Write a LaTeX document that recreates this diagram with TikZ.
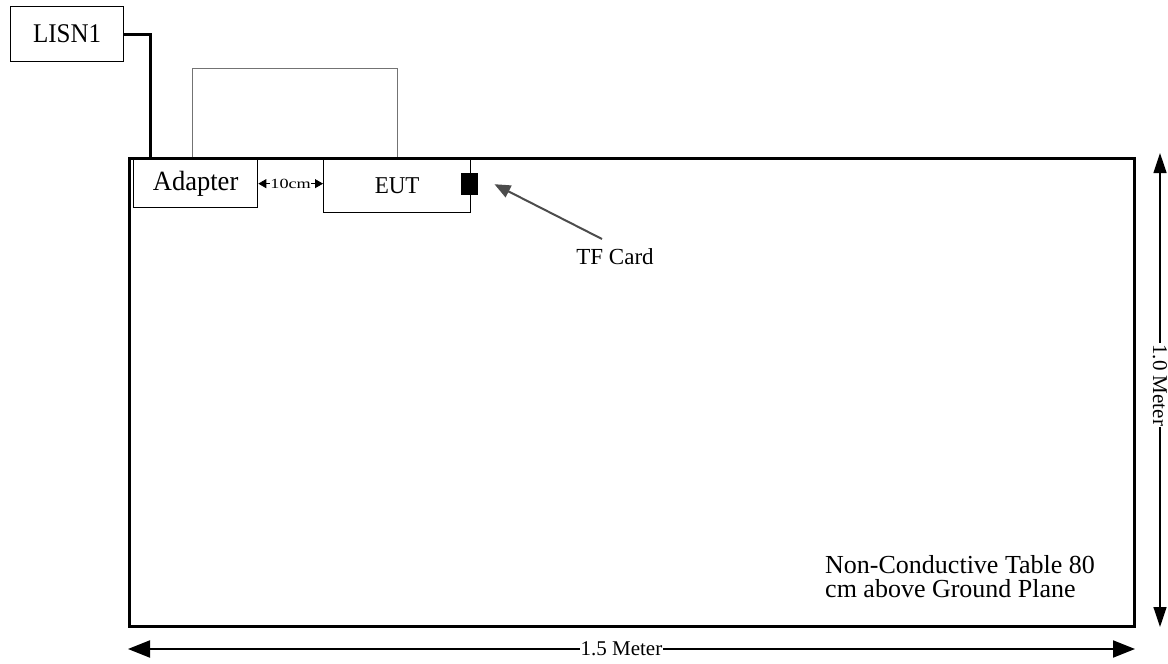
\documentclass[tikz,border=0pt]{standalone}
\usepackage{fontspec}
\usepackage{graphicx}
\setmainfont{Liberation Serif}
\usetikzlibrary{arrows.meta}
\begin{document}
\begin{tikzpicture}[x=1pt,y=-1pt,
  box/.style={draw,line width=1.3pt,inner sep=0pt,anchor=north west},
  heavyline/.style={line width=3pt},
  loopline/.style={line width=1pt,draw=black!55},
  dimright/.style={line width=1.3pt,{Triangle[length=20pt,width=13pt]}-{Triangle[length=20pt,width=13pt]}},
  dimbottom/.style={line width=2pt,{Triangle[length=22pt,width=17pt]}-{Triangle[length=22pt,width=17pt]}},
  dimlabel/.style={fill=white,inner sep=1pt},
]
\useasboundingbox (0,0) rectangle (1168,664);
% table
\node[draw,heavyline,minimum width=1005pt,minimum height=468pt,anchor=north west,inner sep=0pt] (table) at (128,157) {};
% boxes
\node[box,minimum width=113pt,minimum height=55pt,font=\fontsize{25}{28}\selectfont] (lisn) at (10,6) {\scalebox{1}[1.08]{LISN1}};
\node[box,minimum width=124pt,minimum height=48pt,font=\fontsize{26.5}{28}\selectfont] (adapter) at (133,159) {\scalebox{1}[1.05]{Adapter}};
\node[box,minimum width=147pt,minimum height=53pt,font=\fontsize{23}{26}\selectfont] (eut) at (323,159) {\scalebox{1}[1.05]{EUT}};
\node[fill=black,minimum width=17pt,minimum height=22pt,inner sep=0pt,anchor=north west] (tf) at (461,173) {};
% cable LISN -> table
\coordinate (cabledrop) at (150,157);
\draw[heavyline] (lisn.east) -| (cabledrop);
% loop cable
\coordinate (loopa) at (192,157);
\coordinate (loopb) at (192,68);
\coordinate (loopc) at (397,68);
\coordinate (loopd) at (397,157);
\draw[loopline] (loopa) -- (loopb) -- (loopc) -- (loopd);
% 10cm
\draw[line width=0.8pt,{Triangle[length=8pt,width=9pt]}-{Triangle[length=8pt,width=9pt]}]
  (adapter.east) -- (adapter.east -| eut.west)
  node[midway,fill=white,inner sep=0.5pt,font=\fontsize{14}{14}\selectfont] (tencm) {\scalebox{1.3}[1]{10cm}};
% TF card
\node[font=\fontsize{23}{26}\selectfont] (tflabel) at (615,257) {TF Card};
\coordinate (tftail) at (602,239);
\draw[line width=2pt,draw=black!70,-{Triangle[length=16pt,width=13pt]},color=black!70] (tftail) -- ([xshift=16pt]tf.east);
% note
\node[anchor=north west,align=left,inner sep=0pt,font=\fontsize{26}{24.5}\selectfont] (note) at (825,555) {Non-Conductive Table 80\\cm above Ground Plane};
% dimensions
\coordinate (rtop) at (1160,153);
\coordinate (rbot) at (1160,627);
\draw[dimright] (rtop) -- (rbot) node[pos=0.49,dimlabel,rotate=-90,font=\fontsize{21}{24}\selectfont] (hlabel) {1.0 Meter};
\coordinate (bleft) at (128,649);
\coordinate (bright) at (1135,649);
\draw[dimbottom] (bleft) -- (bright) node[pos=0.49,dimlabel,font=\fontsize{21}{24}\selectfont] (wlabel) {1.5 Meter};
\end{tikzpicture}
\end{document}
